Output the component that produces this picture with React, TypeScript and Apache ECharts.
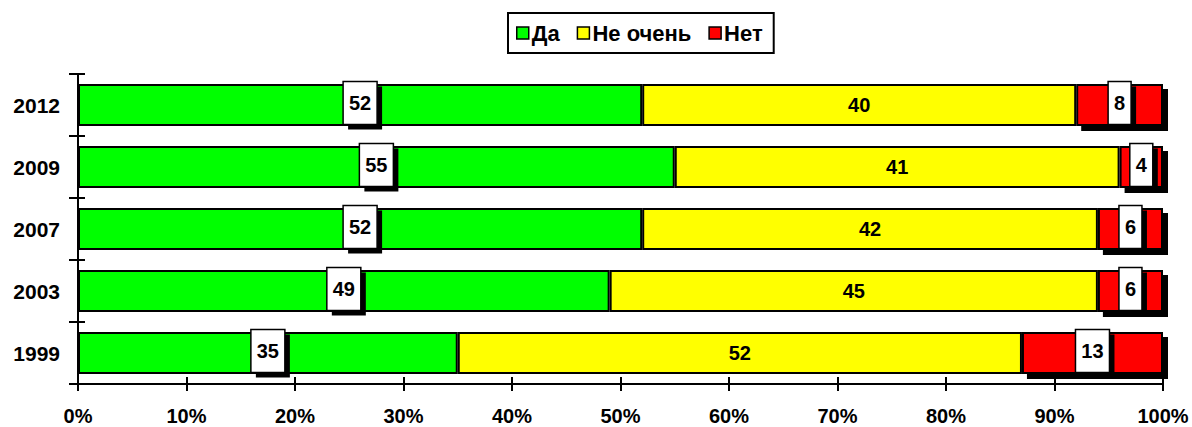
import React, { useEffect, useRef } from "react";
import * as echarts from "echarts";

const years = ["1999", "2003", "2007", "2009", "2012"];
const seriesNames = ["Да", "Не очень", "Нет"];
const daValues = [35, 49, 52, 55, 52];
const neOchenValues = [52, 45, 42, 41, 40];
const netValues = [13, 6, 6, 4, 8];
const colors = ["#00FF00", "#FFFF00", "#FF0000"];

const FONT = '"Liberation Sans", Arial, sans-serif';
const LABEL_FONT = `bold 20px ${FONT}`;

let measureCtx: CanvasRenderingContext2D | null = null;
function textWidth(t: string): number {
  if (!measureCtx) {
    const c = document.createElement("canvas");
    measureCtx = c.getContext("2d");
  }
  if (!measureCtx) return t.length * 11.1;
  measureCtx.font = LABEL_FONT;
  return measureCtx.measureText(t).width;
}

export default function App() {
  const ref = useRef<HTMLDivElement>(null);
  useEffect(() => {
    document.body.style.margin = "0";
    if (!ref.current) return;
    const chart = echarts.init(ref.current, undefined, { renderer: "svg" });

    const BAR_W = 42;
    const SH = 5;

    // boxed labels: [center value, category index, value]
    const boxData: number[][] = [];
    years.forEach((_, i) => {
      boxData.push([daValues[i] / 2, i, daValues[i]]);
      const s = daValues[i] + neOchenValues[i];
      boxData.push([s + netValues[i] / 2, i, netValues[i]]);
    });
    // red bar shadow: [start, category index, end]
    const shadowData: number[][] = years.map((_, i) => {
      const s = daValues[i] + neOchenValues[i];
      return [s, i, s + netValues[i]];
    });

    const valueAxisBase = {
      type: "value",
      min: 0,
      max: 100,
      interval: 10,
      splitLine: { show: false },
      axisLine: { show: true, lineStyle: { color: "#000", width: 2 } },
    };
    const catAxisBase = {
      type: "category",
      data: years,
      axisLine: { show: true, lineStyle: { color: "#000", width: 2 } },
    };
    chart.setOption({
      animation: false,
      textStyle: { fontFamily: FONT },
      legend: {
        data: seriesNames,
        left: 508,
        top: 13,
        orient: "horizontal",
        borderColor: "#000",
        borderWidth: 2,
        padding: [9, 11, 9, 8],
        itemGap: 17,
        itemWidth: 12,
        itemHeight: 12,
        icon: "rect",
        itemStyle: { borderColor: "#000", borderWidth: 1.5 },
        textStyle: {
          fontFamily: FONT,
          fontWeight: "bold",
          fontSize: 22,
          lineHeight: 20,
          color: "#000",
          padding: [0, 0, 0, -2],
        },
      },
      grid: { left: 78, right: 29, top: 74, bottom: 43, containLabel: false },
      xAxis: [
        {
          ...valueAxisBase,
          position: "bottom",
          axisTick: { show: true, inside: false, length: 7, lineStyle: { color: "#000", width: 2 } },
          axisLabel: {
            formatter: "{value}%",
            color: "#000",
            fontFamily: FONT,
            fontWeight: "bold",
            fontSize: 20,
            margin: 22,
          },
        },
        {
          ...valueAxisBase,
          position: "bottom",
          axisTick: { show: true, inside: true, length: 7, lineStyle: { color: "#000", width: 2 } },
          axisLabel: { show: false },
        },
      ],
      yAxis: [
        {
          ...catAxisBase,
          position: "left",
          axisTick: { show: true, inside: false, length: 9, lineStyle: { color: "#000", width: 2 } },
          axisLabel: {
            color: "#000",
            fontFamily: FONT,
            fontWeight: "bold",
            fontSize: 21,
            margin: 18,
          },
        },
        {
          ...catAxisBase,
          position: "left",
          axisTick: { show: true, inside: true, length: 7, lineStyle: { color: "#000", width: 2 } },
          axisLabel: { show: false },
        },
      ],
      series: [
        {
          type: "custom",
          name: "shadow",
          xAxisIndex: 0,
          yAxisIndex: 0,
          z: 1,
          silent: true,
          encode: { x: [0, 2], y: 1 },
          data: shadowData,
          renderItem: (params: any, api: any) => {
            const p0 = api.coord([api.value(0), api.value(1)]);
            const p1 = api.coord([api.value(2), api.value(1)]);
            return {
              type: "rect",
              shape: { x: p0[0] + SH, y: p0[1] - BAR_W / 2 + SH, width: p1[0] - p0[0], height: BAR_W },
              style: { fill: "#000" },
            };
          },
        },
        {
          name: seriesNames[0],
          type: "bar",
          stack: "total",
          xAxisIndex: 0,
          yAxisIndex: 0,
          barWidth: BAR_W,
          z: 2,
          data: daValues,
          itemStyle: { color: colors[0], borderColor: "#000", borderWidth: 2 },
        },
        {
          name: seriesNames[1],
          type: "bar",
          stack: "total",
          xAxisIndex: 0,
          yAxisIndex: 0,
          barWidth: BAR_W,
          z: 2,
          data: neOchenValues,
          itemStyle: { color: colors[1], borderColor: "#000", borderWidth: 2 },
          label: {
            show: true,
            position: "inside",
            color: "#000",
            fontFamily: FONT,
            fontWeight: "bold",
            fontSize: 20,
          },
        },
        {
          name: seriesNames[2],
          type: "bar",
          stack: "total",
          xAxisIndex: 0,
          yAxisIndex: 0,
          barWidth: BAR_W,
          z: 2,
          data: netValues,
          itemStyle: { color: colors[2], borderColor: "#000", borderWidth: 2 },
        },
        {
          type: "custom",
          name: "boxes",
          xAxisIndex: 0,
          yAxisIndex: 0,
          z: 5,
          silent: true,
          encode: { x: 0, y: 1 },
          data: boxData,
          renderItem: (params: any, api: any) => {
            const c = api.coord([api.value(0), api.value(1)]);
            const t = String(api.value(2));
            const w = Math.round(textWidth(t) + 12);
            const h = 43;
            const x = c[0] - w / 2;
            const y = c[1] - h / 2 - 2;
            return {
              type: "group",
              children: [
                { type: "rect", shape: { x: x + SH, y: y + SH, width: w, height: h }, style: { fill: "#000" } },
                {
                  type: "rect",
                  shape: { x, y, width: w, height: h },
                  style: { fill: "#fff", stroke: "#000", lineWidth: 1.5 },
                },
                {
                  type: "text",
                  style: {
                    text: t,
                    x: c[0],
                    y: y + h / 2,
                    align: "center",
                    verticalAlign: "middle",
                    font: LABEL_FONT,
                    fill: "#000",
                  },
                },
              ],
            };
          },
        },
      ],
    });
    return () => chart.dispose();
  }, []);
  return <div ref={ref} style={{ width: 1192, height: 427 }} />;
}
